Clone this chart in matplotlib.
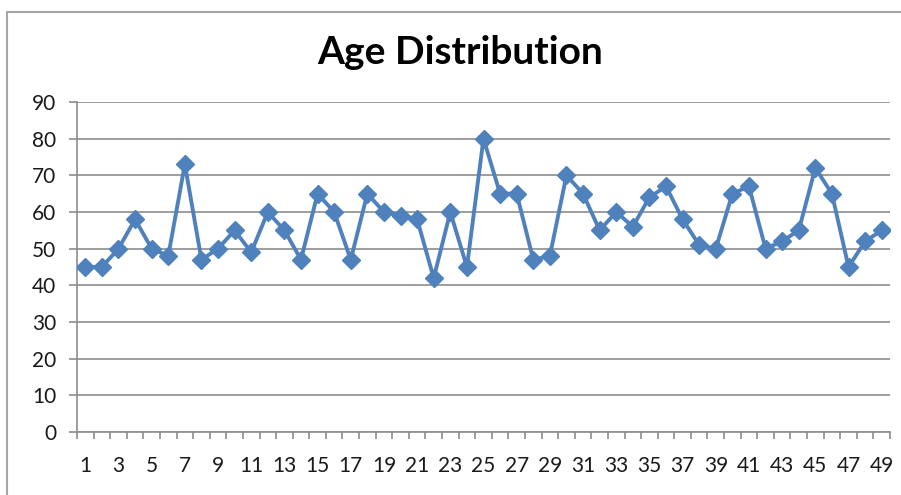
import matplotlib
matplotlib.use('Agg')
import matplotlib.pyplot as plt
import numpy as np
from matplotlib.patches import Rectangle

# ages per person
persons = list(range(1, 50))
ages = [45, 45, 50, 58, 50, 48, 73, 47, 50, 55,
        49, 60, 55, 47, 65, 60, 47, 65, 60, 59,
        58, 42, 60, 45, 80, 65, 65, 47, 48, 70,
        65, 55, 60, 56, 64, 67, 58, 51, 50, 65,
        67, 50, 52, 55, 72, 65, 45, 52, 55]
y_ticks = list(range(0, 100, 10))

plt.rcParams['font.family'] = ['Lato', 'DejaVu Sans']

fig = plt.figure(figsize=(9.01, 4.95), dpi=100)
ax = fig.add_axes([77 / 901, 1 - 432 / 495, (890 - 77) / 901, (432 - 102) / 495])

# chart frame (excel style)
fig.patches.append(Rectangle((7 / 901, -0.1), 1.0, 1 - 12 / 495 + 0.1,
                             transform=fig.transFigure, fill=False,
                             edgecolor='#a6a6a6', linewidth=1.5))

ax.plot(persons, ages, color='#4f81bd', linewidth=2.8, marker='D',
        markersize=9.5, markeredgecolor='#4f81bd', zorder=3)

ax.set_xlim(0.5, 49.5)
ax.set_ylim(0, 90)
ax.set_yticks(y_ticks)
ax.yaxis.grid(True, color='#8c8c8c', linewidth=1.2)
ax.set_axisbelow(True)

# ticks between categories, labels on every other category
ax.set_xticks(np.arange(0.5, 50.5, 1), minor=False)
ax.set_xticklabels([])
ax.set_xticks(persons[::2], minor=True)
ax.set_xticklabels([str(p) for p in persons[::2]], minor=True)
ax.tick_params(axis='x', which='major', direction='out', length=5,
               color='#8c8c8c', width=1.2)
ax.tick_params(axis='x', which='minor', length=0, pad=17, labelsize=15,
               labelcolor='#1a1a1a')
ax.tick_params(axis='y', direction='out', length=6, color='#8c8c8c',
               width=1.2, pad=9, labelsize=15, labelcolor='#1a1a1a')

for s in ['top', 'right']:
    ax.spines[s].set_visible(False)
for s in ['left', 'bottom']:
    ax.spines[s].set_color('#8c8c8c')
    ax.spines[s].set_linewidth(1.2)

fig.text(460 / 901, 1 - 52 / 495, 'Age Distribution', ha='center', va='center',
         fontsize=28, fontweight='bold')

fig.savefig('out.png', dpi=100)
